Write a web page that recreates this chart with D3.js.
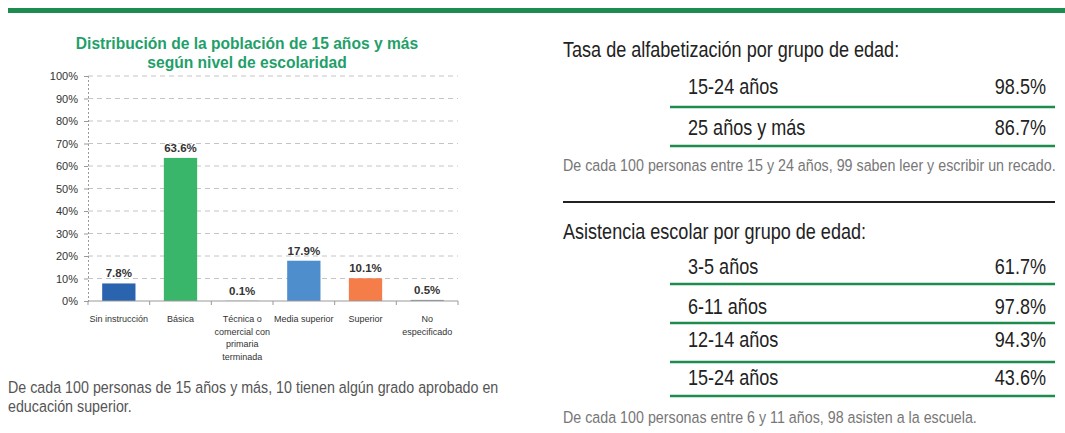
<!DOCTYPE html>
<html><head><meta charset="utf-8">
<script src="https://cdn.jsdelivr.net/npm/d3@7"></script>
<style>
html,body{margin:0;padding:0;background:#fff;}
svg{display:block;}
</style></head>
<body>
<svg id="c" width="1065" height="433"></svg>
<script>
const categories = ["Sin instrucción","Básica","Técnica o\ncomercial con\nprimaria\nterminada","Media superior","Superior","No\nespecificado"];
const values = [7.8, 63.6, 0.1, 17.9, 10.1, 0.5];
const valueLabels = ["7.8%","63.6%","0.1%","17.9%","10.1%","0.5%"];
const barColors = ["#2A63AE","#3AB66A","#8C8C8C","#4E8ECD","#F47D4A","#8E9AA8"];
const yTicks = [0,10,20,30,40,50,60,70,80,90,100];
const chartTitle = ["Distribución de la población de 15 años y más","según nivel de escolaridad"];
const leftNote = ["De cada 100 personas de 15 años y más, 10 tienen algún grado aprobado en","educación superior."];

const alfaTitle = "Tasa de alfabetización por grupo de edad:";
const alfaGroups = ["15-24 años","25 años y más"];
const alfaValues = ["98.5%","86.7%"];
const alfaNote = "De cada 100 personas entre 15 y 24 años, 99 saben leer y escribir un recado.";

const asisTitle = "Asistencia escolar por grupo de edad:";
const asisGroups = ["3-5 años","6-11 años","12-14 años","15-24 años"];
const asisValues = ["61.7%","97.8%","94.3%","43.6%"];
const asisNote = "De cada 100 personas entre 6 y 11 años, 98 asisten a la escuela.";

const svg = d3.select("#c");
const SANS = "'Liberation Sans',Arial,Helvetica,sans-serif";
const NARROW_F = 0.84;
// condensed text: drawn at origin inside a horizontally scaled group
function ntext(px, py, str, size, fill, anchor){
  const gg = svg.append("g").attr("transform",`translate(${px},${py}) scale(${NARROW_F},1)`);
  return gg.append("text").attr("x",0).attr("y",0).attr("font-family",SANS)
    .attr("font-size",size).attr("fill",fill).attr("text-anchor",anchor||"start").text(str);
}

svg.append("rect").attr("x",8).attr("y",8).attr("width",1057).attr("height",5).attr("fill","#1E8C4E");

// ---- bar chart ----
const x = d3.scaleBand().domain(categories).range([88,458]).paddingInner(0.46).paddingOuter(0.23);
const y = d3.scaleLinear().domain([0,100]).range([301,76]);

const g = svg.append("g");
g.selectAll("line.grid").data(yTicks.filter(d=>d>0)).join("line")
  .attr("x1",88).attr("x2",458).attr("y1",d=>y(d)).attr("y2",d=>y(d))
  .attr("stroke","#c4c4c4").attr("stroke-width",1).attr("stroke-dasharray","5,4");

const yAxis = d3.axisLeft(y).tickValues(yTicks).tickFormat(d=>d+"%").tickSize(4).tickPadding(6);
const ya = g.append("g").attr("transform","translate(88,0)").call(yAxis);
ya.select(".domain").attr("stroke","#9a9a9a").attr("stroke-dasharray","2,2");
ya.selectAll(".tick line").attr("stroke","#9a9a9a");
ya.selectAll(".tick text").attr("font-family",SANS).attr("font-size",11).attr("fill","#333");

g.selectAll("rect.bar").data(values).join("rect")
  .attr("x",(d,i)=>x(categories[i])).attr("width",x.bandwidth())
  .attr("y",d=>y(d)).attr("height",d=>y(0)-y(d))
  .attr("fill",(d,i)=>barColors[i]);

g.selectAll("text.vl").data(values).join("text")
  .attr("x",(d,i)=>x(categories[i])+x.bandwidth()/2)
  .attr("y",d=>y(d)-6)
  .attr("text-anchor","middle").attr("font-family",SANS).attr("font-weight","bold")
  .attr("font-size",11.5).attr("fill","#333")
  .text((d,i)=>valueLabels[i]);

const xb = d3.scaleBand().domain(categories).range([88,458]);
const xa = g.append("g").attr("transform","translate(0,301)");
xa.append("line").attr("x1",88).attr("x2",458).attr("stroke","#9a9a9a");
xa.selectAll("line.t").data(d3.range(categories.length+1)).join("line")
  .attr("x1",i=>88+i*xb.step()).attr("x2",i=>88+i*xb.step()).attr("y1",0).attr("y2",4)
  .attr("stroke","#9a9a9a");
categories.forEach((c,i)=>{
  const t = xa.append("text").attr("x",xb(c)+xb.bandwidth()/2).attr("y",21)
    .attr("text-anchor","middle").attr("font-family",SANS).attr("font-size",9).attr("fill","#333");
  c.split("\n").forEach((ln,j)=>t.append("tspan").attr("x",xb(c)+xb.bandwidth()/2).attr("dy",j?12.5:0).text(ln));
});

chartTitle.forEach((t,i)=>svg.append("text").attr("x",247).attr("y",49+i*19)
  .attr("text-anchor","middle").attr("font-family",SANS).attr("font-weight","bold")
  .attr("font-size",15.6).attr("fill","#1FA06A").text(t));

leftNote.forEach((t,i)=>ntext(8, 393+i*19, t, 17, "#555"));

// ---- right tables ----
function table(title, titleY, groups, vals, rowYs, lineYs, note, noteY){
  ntext(563, titleY, title, 21.5, "#222");
  groups.forEach((d,i)=>ntext(688, rowYs[i], d, 21.5, "#222"));
  vals.forEach((d,i)=>ntext(1046, rowYs[i], d, 21.5, "#222", "end"));
  svg.selectAll(null).data(lineYs).join("line")
    .attr("x1",670).attr("x2",1055).attr("y1",d=>d).attr("y2",d=>d)
    .attr("stroke","#1E8C4E").attr("stroke-width",2.5);
  ntext(563, noteY, note, 17, "#777");
}
table(alfaTitle, 57, alfaGroups, alfaValues, [94,135], [107,146], alfaNote, 171);
svg.append("line").attr("x1",563).attr("x2",1055).attr("y1",202).attr("y2",202).attr("stroke","#222").attr("stroke-width",2);
table(asisTitle, 239, asisGroups, asisValues, [274,314,347,385], [284,323,362,396], asisNote, 423);
</script>
</body></html>
